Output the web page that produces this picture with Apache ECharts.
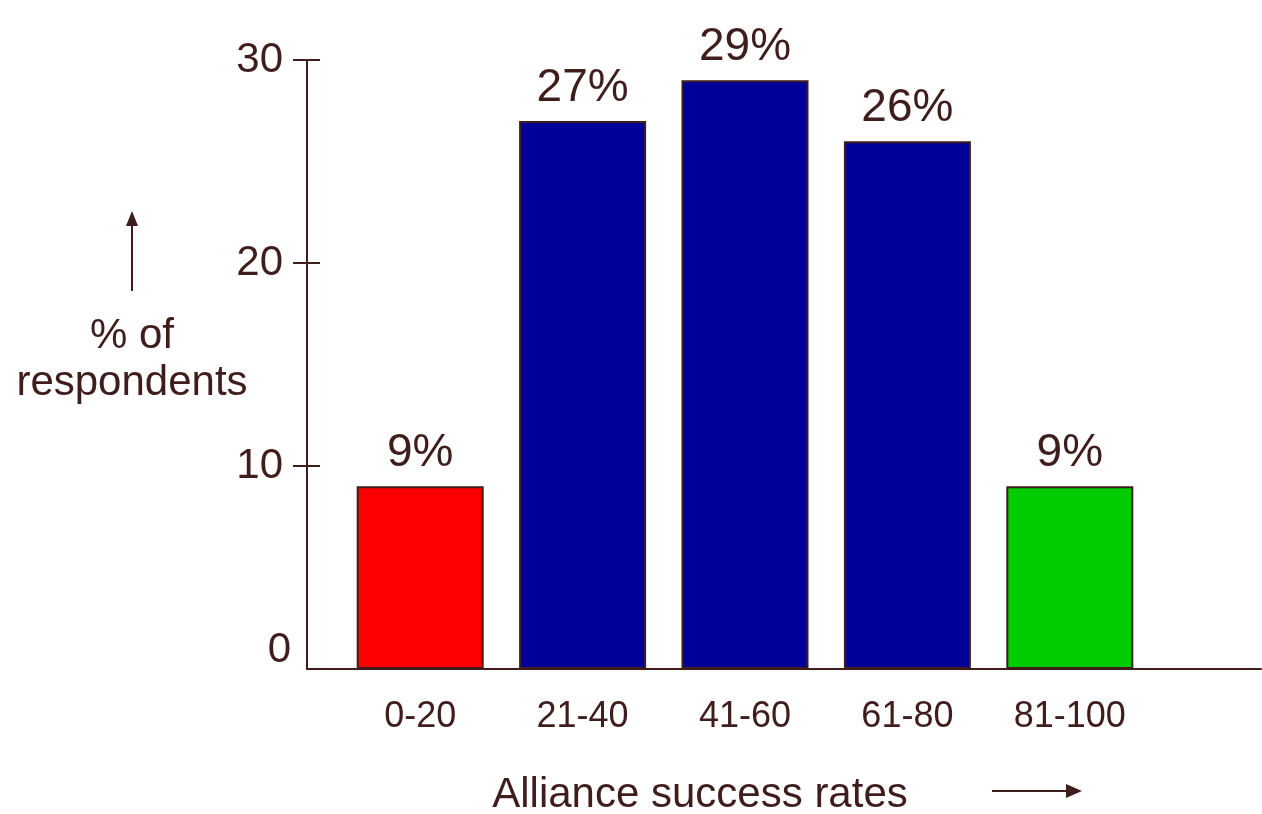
<!DOCTYPE html>
<html>
<head>
<meta charset="utf-8">
<script src="https://cdn.jsdelivr.net/npm/echarts@6/dist/echarts.min.js"></script>
<style>
  html, body { margin: 0; padding: 0; background: #ffffff; }
  #chart { width: 1262px; height: 814px; }
</style>
</head>
<body>
<div id="chart"></div>
<script>
// Share of respondents per alliance success-rate band
const categories = ['0-20', '21-40', '41-60', '61-80', '81-100'];
const percentValues = [9, 27, 29, 26, 9];
const barColors = ['#ff0000', '#000099', '#000099', '#000099', '#00cc00'];
const yTickValues = [0, 10, 20, 30];
const yAxisTitle = ['% of', 'respondents'];
const xAxisTitle = 'Alliance success rates';

const ink = '#3f1d1d';
const font = '"Liberation Sans", Arial, Helvetica, sans-serif';

const chart = echarts.init(document.getElementById('chart'), null, { renderer: 'canvas' });

const option = {
  backgroundColor: '#ffffff',
  animation: false,
  textStyle: { fontFamily: font, color: ink },
  grid: [
    // frame: y scale and the long baseline
    { left: 307, right: 1, top: 60, bottom: 145 },
    // bars
    { left: 339, right: 111, top: 60, bottom: 145 }
  ],
  xAxis: [
    {
      gridIndex: 0, type: 'value', min: 0, max: 1,
      axisLine: { show: true, onZero: false, lineStyle: { color: ink, width: 2 } },
      axisTick: { show: false }, axisLabel: { show: false }, splitLine: { show: false }
    },
    {
      gridIndex: 1, type: 'category', data: categories,
      axisLine: { show: false }, axisTick: { show: false }, splitLine: { show: false },
      axisLabel: { color: ink, fontSize: 36, fontFamily: font, margin: 30 }
    }
  ],
  yAxis: [
    {
      gridIndex: 0, type: 'value', position: 'left', min: 0, max: 30, interval: 10,
      axisLine: { show: true, lineStyle: { color: ink, width: 2 } },
      axisTick: { show: true, length: 14, customValues: [10, 20, 30], lineStyle: { color: ink, width: 2 } },
      splitLine: { show: false },
      axisLabel: {
        customValues: yTickValues,
        margin: 16,
        formatter: v => (v === 0 ? '{z|0}' : '{a|' + v + '}'),
        rich: {
          a: { fontSize: 42, fontFamily: font, color: ink, padding: [0, 8, 0, 0] },
          z: { fontSize: 42, fontFamily: font, color: ink, padding: [0, 0, 38, 0] }
        }
      }
    },
    {
      // inner half of the crossing tick marks
      gridIndex: 0, type: 'value', position: 'left', offset: 0, min: 0, max: 30, interval: 10,
      axisLine: { show: false },
      axisTick: { show: true, inside: true, length: 13, customValues: [10, 20, 30], lineStyle: { color: ink, width: 2 } },
      axisLabel: { show: false }, splitLine: { show: false }
    },
    {
      gridIndex: 1, type: 'value', min: 0, max: 30, interval: 10, show: false
    }
  ],
  series: [
    {
      type: 'bar',
      xAxisIndex: 1, yAxisIndex: 2,
      barWidth: 127,
      data: percentValues.map((v, i) => ({
        value: v,
        itemStyle: { color: barColors[i], borderColor: ink, borderWidth: 2 }
      })),
      label: {
        show: true, position: 'top', distance: 10,
        formatter: p => p.value + '%',
        fontSize: 46, fontFamily: font, color: ink
      }
    }
  ],
  graphic: [
    // y axis title with upward arrow
    {
      type: 'text',
      style: {
        text: yAxisTitle.join('\n'), x: 132, y: 360, align: 'center', verticalAlign: 'middle',
        fontSize: 42, lineHeight: 47, fontFamily: font, fill: ink
      }
    },
    { type: 'line', shape: { x1: 132, y1: 291, x2: 132, y2: 222 }, style: { stroke: ink, lineWidth: 2 } },
    { type: 'polygon', shape: { points: [[132, 211], [126, 226], [138, 226]] }, style: { fill: ink } },
    // x axis title with rightward arrow
    {
      type: 'text',
      style: {
        text: xAxisTitle, x: 700, y: 795, align: 'center', verticalAlign: 'middle',
        fontSize: 42, fontFamily: font, fill: ink
      }
    },
    { type: 'line', shape: { x1: 992, y1: 791, x2: 1070, y2: 791 }, style: { stroke: ink, lineWidth: 2 } },
    { type: 'polygon', shape: { points: [[1082, 791], [1066, 784], [1066, 798]] }, style: { fill: ink } }
  ]
};

chart.setOption(option);
</script>
</body>
</html>
